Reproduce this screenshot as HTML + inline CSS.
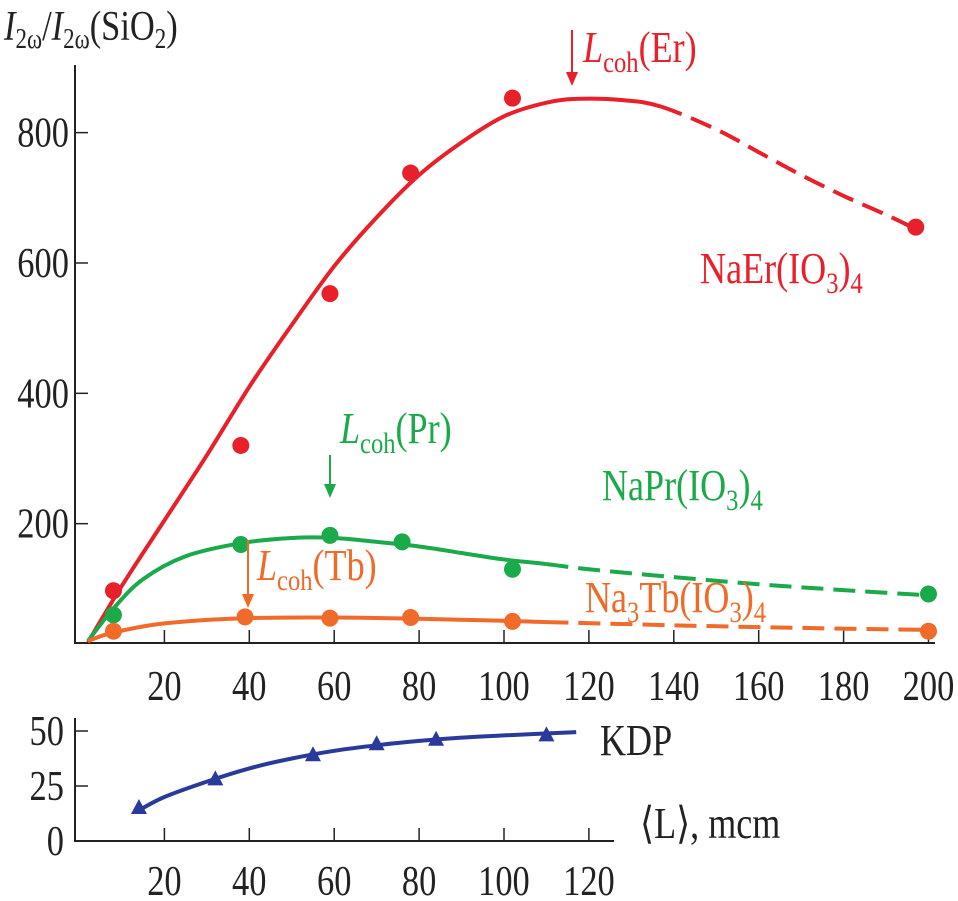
<!DOCTYPE html>
<html><head><meta charset="utf-8"><style>
html,body{margin:0;padding:0;background:#fff;}
svg{display:block;font-family:"Liberation Serif",serif;}
</style></head><body>
<svg id="c" width="958" height="901" viewBox="0 0 958 901"></svg>
<script>
const xTicks=[20,40,60,80,100,120,140,160,180,200];
const yTicks=[200,400,600,800];
const erX=[8,38,59,78,102,197], erY=[97,320,553,738,853,655];
const prX=[8,38,59,76,102,200], prY=[60,168,182,172,130,92];
const tbX=[8,39,59,78,102,200], tbY=[35,57,55,56,50,35];
const erCurveX=[2,10,20,30,40,50,60,70,80,90,100,110,118,128,137,150,160,170,180,190,197];
const erCurveY=[18,105,205,305,410,505,595,670,735,785,825,846,852,850,840,805,770,735,703,674,652];
const prCurveX=[2,8,15,25,38,50,60,70,80,90,100,110,120,140,160,180,200];
const prCurveY=[20,70,115,150,170,178,178,172,165,155,145,138,130,118,107,98,90];
const tbCurveX=[2,8,20,39,60,80,100,110,140,170,200];
const tbCurveY=[20,33,47,55,56,54,51,49,44,40,37];
const kdpX=[14,32,55,70,84,110], kdpY=[15,28,39,44,46,48];
const kdpCurveX=[14,20,30,40,50,60,70,80,90,100,117];
const kdpCurveY=[14,20,27,33,37.5,41,43.5,45.5,47,48,49.5];
const kdpXTicks=[20,40,60,80,100,120], kdpYTicks=[0,25,50];

const X=v=>79.5+v*4.245;
const Y=v=>654-v*0.6517;
const Y2=v=>841-v*2.2;
const NS="http://www.w3.org/2000/svg";
const svg=document.getElementById('c');
const SX=0.82;
function el(t,a,p){const e=document.createElementNS(NS,t);for(const k in a)e.setAttribute(k,a[k]);(p||svg).appendChild(e);return e;}
function path(xs,ys,yf,from,to){
  const pts=xs.map((x,i)=>[X(x),yf(ys[i])]);let d='';
  for(let i=0;i<pts.length-1;i++){
    if(xs[i]<from||xs[i+1]>to)continue;
    const p0=pts[Math.max(0,i-1)],p1=pts[i],p2=pts[i+1],p3=pts[Math.min(pts.length-1,i+2)];
    const c1=[p1[0]+(p2[0]-p0[0])/6,p1[1]+(p2[1]-p0[1])/6],c2=[p2[0]-(p3[0]-p1[0])/6,p2[1]-(p3[1]-p1[1])/6];
    if(!d)d='M'+p1[0].toFixed(1)+','+p1[1].toFixed(1);
    d+=`C${c1[0].toFixed(1)},${c1[1].toFixed(1)} ${c2[0].toFixed(1)},${c2[1].toFixed(1)} ${p2[0].toFixed(1)},${p2[1].toFixed(1)}`;}
  return d;}
function txt(x,y,anchor,size,col){return el('text',{x:(x/SX).toFixed(1),y:y,'text-anchor':anchor,'font-size':size,fill:col,transform:`scale(${SX},1)`});}

// main axes
let e=el('path',{d:'M75,65 L75,643 L935,643',fill:'none',stroke:'#222','stroke-width':2});

xTicks.forEach(t=>{
  let l=el('line',{x1:X(t),x2:X(t),y1:643,y2:630,stroke:'#222','stroke-width':1.5});
  
  let tx=txt(X(t),700,'middle',42,'#222');tx.textContent=t;
  
});
yTicks.forEach(t=>{
  let l=el('line',{x1:75,x2:88,y1:Y(t),y2:Y(t),stroke:'#222','stroke-width':1.5});
  
  let tx=txt(69,Y(t)+14,'end',42,'#222');tx.textContent=t;
  
});

function series(name,col,cx,cy,px,py,dashFrom){
  let s=el('path',{d:path(cx,cy,Y,0,dashFrom),fill:'none',stroke:col,'stroke-width':4});
  
  let d=el('path',{d:path(cx,cy,Y,dashFrom,999),fill:'none',stroke:col,'stroke-width':4,'stroke-dasharray':'22,10'});
  
  px.forEach((v,i)=>{let c=el('circle',{cx:X(v),cy:Y(py[i]),r:8.5,fill:col});
    });
}
series('er','#e8202a',erCurveX,erCurveY,erX,erY,137);
series('pr','#1aaa4a',prCurveX,prCurveY,prX,prY,110);
series('tb','#f06a2a',tbCurveX,tbCurveY,tbX,tbY,110);

// annotations
function arrow(name,x,y1,y2,col){let l=el('line',{x1:x,x2:x,y1:y1,y2:y2-12,stroke:col,'stroke-width':2});
  
  let h=el('path',{d:`M${x-6},${y2-14} L${x+6},${y2-14} L${x},${y2} Z`,fill:col});
  }
arrow('arrow-er',572,30,86,'#e8202a');
arrow('arrow-pr',330,455,498,'#1aaa4a');
arrow('arrow-tb',248,540,608,'#f06a2a');
function lab(name,x,y,html,col,size){let t=txt(x,y,'start',size||44,col);t.innerHTML=html;
  }
const sub=(s)=>`<tspan font-size="30" dy="10">${s}</tspan>`;
lab('label-lcoh-er',583,62,'<tspan font-style="italic">L</tspan>'+sub('coh')+'<tspan dy="-10">(Er)</tspan>','#e8202a');
lab('label-lcoh-pr',340,443,'<tspan font-style="italic">L</tspan>'+sub('coh')+'<tspan dy="-10">(Pr)</tspan>','#1aaa4a');
lab('label-lcoh-tb',257,580,'<tspan font-style="italic">L</tspan>'+sub('coh')+'<tspan dy="-10">(Tb)</tspan>','#f06a2a');
lab('label-naer',700,283,'NaEr(IO'+sub('3')+'<tspan dy="-10">)</tspan>'+sub('4'),'#e8202a');
lab('label-napr',602,500,'NaPr(IO'+sub('3')+'<tspan dy="-10">)</tspan>'+sub('4'),'#1aaa4a');
lab('label-natb',585,612,'Na'+sub('3')+'<tspan dy="-10">Tb(IO</tspan>'+sub('3')+'<tspan dy="-10">)</tspan>'+sub('4'),'#f06a2a');
lab('y-axis-title',4,40,'<tspan font-style="italic">I</tspan><tspan font-size="28" dy="8">2ω</tspan><tspan dy="-8">/</tspan><tspan font-style="italic">I</tspan><tspan font-size="28" dy="8">2ω</tspan><tspan dy="-8">(SiO</tspan><tspan font-size="28" dy="8">2</tspan><tspan dy="-8">)</tspan>','#222',42);

// KDP panel
e=el('path',{d:'M75,718 L75,841 L614,841',fill:'none',stroke:'#222','stroke-width':2});

kdpXTicks.forEach(t=>{
  let l=el('line',{x1:X(t),x2:X(t),y1:841,y2:828,stroke:'#222','stroke-width':1.5});
  
  let tx=txt(X(t),895,'middle',42,'#222');tx.textContent=t;
  
});
kdpYTicks.forEach(t=>{
  let l=el('line',{x1:75,x2:88,y1:Y2(t),y2:Y2(t),stroke:'#222','stroke-width':1.5});
  
  let tx=txt(64,Y2(t)+14,'end',42,'#222');tx.textContent=t;
  
});
e=el('path',{d:path(kdpCurveX,kdpCurveY,Y2,0,999),fill:'none',stroke:'#2a3a9a','stroke-width':4});

kdpX.forEach((v,i)=>{const x=X(v),y=Y2(kdpY[i]);
  let t=el('path',{d:`M${x-8},${y+6} L${x+8},${y+6} L${x},${y-9} Z`,fill:'#2a3a9a'});
  });
lab('label-kdp',600,755,'KDP','#222',44);
lab('x-axis-title',640,838,'⟨L⟩, mcm','#222',44);
</script>
</body></html>
